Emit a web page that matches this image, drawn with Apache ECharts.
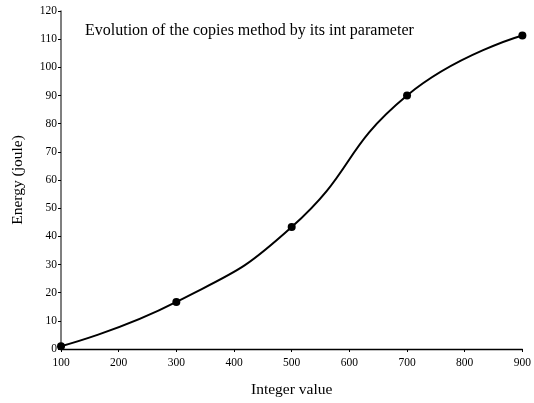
<!DOCTYPE html>
<html><head><meta charset="utf-8">
<script src="https://cdn.jsdelivr.net/npm/echarts@6/dist/echarts.min.js"></script>
<style>html,body{margin:0;padding:0;background:#fff}#c{width:534px;height:403px}</style>
</head><body><div id="c"></div>
<script>
const xValues = [100, 300, 500, 700, 900];
const energy = [1, 16.7, 43.3, 90, 111.3];
const xTicks = [100, 200, 300, 400, 500, 600, 700, 800, 900];
const yTicks = [0, 10, 20, 30, 40, 50, 60, 70, 80, 90, 100, 110, 120];
const titleText = 'Evolution of the copies method by its int parameter';
const xName = 'Integer value';
const yName = 'Energy (joule)';

const font = 'Liberation Serif';
const chart = echarts.init(document.getElementById('c'), null, {renderer: 'canvas'});
chart.setOption({
  animation: false,
  backgroundColor: '#fff',
  title: {
    text: titleText, left: 80, top: 18,
    textStyle: {fontFamily: font, fontSize: 16, fontWeight: 'normal', color: '#000'}
  },
  grid: {left: 61, right: 11, top: 11, bottom: 53},
  xAxis: {
    type: 'value', min: xTicks[0], max: xTicks[xTicks.length-1], interval: 100,
    name: xName, nameLocation: 'middle', nameGap: 33,
    nameTextStyle: {fontFamily: font, fontSize: 15.5, color: '#000'},
    axisLine: {lineStyle: {color: '#000', width: 1.3}},
    axisTick: {show: true, length: 3, lineStyle: {color: '#000'}},
    axisLabel: {fontFamily: font, fontSize: 11.5, color: '#000', margin: 8},
    splitLine: {show: false}
  },
  yAxis: {
    type: 'value', min: yTicks[0], max: yTicks[yTicks.length-1], interval: 10,
    name: yName, nameLocation: 'middle', nameGap: 35, nameRotate: 90,
    nameTextStyle: {fontFamily: font, fontSize: 15.5, color: '#000'},
    axisLine: {show: true, lineStyle: {color: '#555', width: 1.5}},
    axisTick: {show: true, length: 3, lineStyle: {color: '#000'}},
    axisLabel: {fontFamily: font, fontSize: 11.5, color: '#000', margin: 4},
    splitLine: {show: false}
  },
  series: [{
    type: 'line', data: xValues.map((x, i) => [x, energy[i]]),
    smooth: 0.5, symbol: 'circle', symbolSize: 8,
    lineStyle: {color: '#000', width: 2},
    itemStyle: {color: '#000'}
  }]
});
</script></body></html>
